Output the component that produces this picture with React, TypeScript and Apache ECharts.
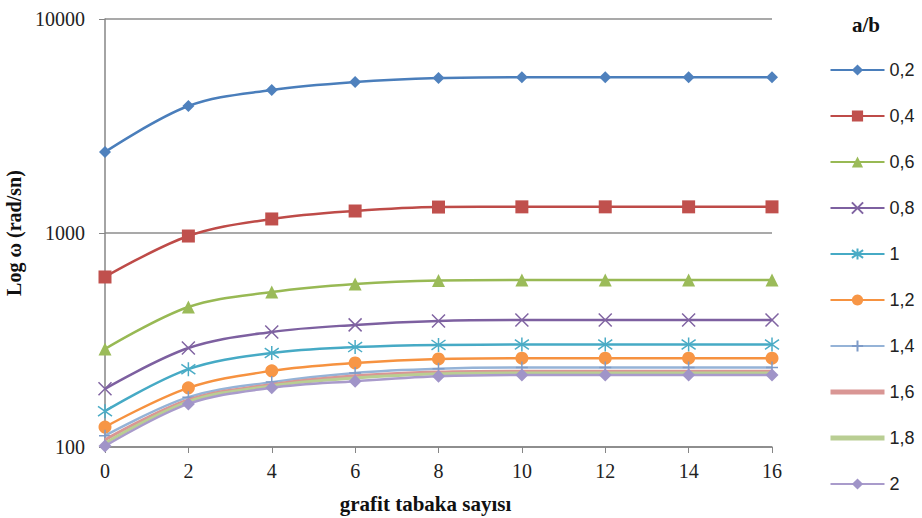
import React, { useEffect, useRef } from "react";
import * as echarts from "echarts";

const categories = ["0", "2", "4", "6", "8", "10", "12", "14", "16"];
const seriesNames = ["0,2", "0,4", "0,6", "0,8", "1", "1,2", "1,4", "1,6", "1,8", "2"];
const s02 = [2390, 3920, 4660, 5080, 5300, 5350, 5350, 5350, 5350];
const s04 = [623, 968, 1163, 1267, 1322, 1325, 1325, 1325, 1325];
const s06 = [287, 451, 530, 578, 600, 603, 603, 603, 603];
const s08 = [187, 290, 345, 372, 388, 392, 392, 392, 392];
const s10 = [147, 231, 275, 293, 300, 301, 301, 301, 301];
const s12 = [124, 189, 227, 247, 258, 260, 260, 260, 260];
const s14 = [113, 171, 201, 222, 232, 235, 235, 235, 235];
const s16 = [108, 166, 196, 215, 224, 226, 226, 226, 226];
const s18 = [104, 163, 193, 210, 220, 222, 222, 222, 222];
const s20 = [101, 159, 189, 203, 214, 217, 217, 217, 217];
const seriesValues = [s02, s04, s06, s08, s10, s12, s14, s16, s18, s20];

const lineColors = ["#4A7EBB", "#BE4B48", "#98B954", "#7D60A0", "#46AAC5", "#F69240", "#95B3D7", "#D99694", "#B9CE93", "#A99BCB"];
const markerColors = ["#4F81BD", "#C0504D", "#9BBB59", "#8064A2", "#4BACC6", "#F79646", "#7E9BC8", "#D99694", "#B9CE93", "#A094C8"];
const symbols = [
  "diamond",
  "rect",
  "triangle",
  "path://M0 0L10 10M10 0L0 10",
  "path://M5 0L5 10M0 1.5L10 8.5M10 1.5L0 8.5",
  "circle",
  "path://M5 0L5 10M0 5L10 5",
  "none",
  "none",
  "diamond",
];
const symbolSizes = [12, 13, 13, 13, 14, 13, 12, 0, 0, 13];
const strokeSymbols = [false, false, false, true, true, false, true, false, false, false];

export default function App() {
  const ref = useRef<HTMLDivElement>(null);
  useEffect(() => {
    if (!ref.current) return;
    const chart = echarts.init(ref.current, null, { renderer: "svg" });
    const series = seriesNames.map((name, i) => ({
      name,
      type: "line",
      data: seriesValues[i],
      smooth: 0.35,
      symbol: symbols[i],
      symbolSize: symbolSizes[i],
      showSymbol: symbols[i] !== "none",
      lineStyle: { color: lineColors[i], width: i === 7 || i === 8 ? 3 : 2.5 },
      itemStyle: strokeSymbols[i]
        ? { color: markerColors[i], borderColor: markerColors[i], borderWidth: 1.5 }
        : { color: markerColors[i], borderWidth: 0 },
      z: 2 + i,
    }));
    chart.setOption({
      animation: false,
      backgroundColor: "#ffffff",
      title: {
        text: "a/b",
        left: 852,
        top: 14,
        padding: 0,
        textStyle: { fontFamily: "Liberation Serif", fontWeight: "bold", fontSize: 21, color: "#111" },
      },
      legend: {
        orient: "vertical",
        left: 828,
        top: 61,
        padding: 0,
        itemWidth: 54,
        itemHeight: 14,
        itemGap: 28,
        textStyle: { fontFamily: "Liberation Sans", fontSize: 18, color: "#222" },
        data: seriesNames.map((n, i) =>
          i === 7 || i === 8
            ? { name: n, lineStyle: { width: 5 }, itemStyle: { opacity: 0 } }
            : { name: n }
        ),
      },
      grid: { left: 105, right: 150, top: 19, bottom: 71, containLabel: false, outerBoundsMode: "none" },
      xAxis: {
        type: "category",
        data: categories,
        boundaryGap: false,
        axisLine: { lineStyle: { color: "#868686", width: 1.5 } },
        axisTick: { show: true, length: 6, lineStyle: { color: "#868686" } },
        axisLabel: { fontFamily: "Liberation Serif", fontSize: 20, color: "#222", margin: 14 },
        name: "grafit tabaka sayısı",
        nameLocation: "middle",
        nameGap: 46,
        nameTextStyle: {
          fontFamily: "Liberation Serif",
          fontWeight: "bold",
          fontSize: 21,
          color: "#111",
          padding: [0, 26, 0, 0],
        },
      },
      yAxis: {
        type: "log",
        logBase: 10,
        min: 100,
        max: 10000,
        axisLine: { show: true, lineStyle: { color: "#868686", width: 1.5 } },
        axisTick: { show: true, length: 6, lineStyle: { color: "#868686" } },
        splitLine: { show: true, lineStyle: { color: "#8c8c8c", width: 1.5 } },
        axisLabel: {
          fontFamily: "Liberation Serif",
          fontSize: 20,
          color: "#222",
          margin: 20,
          formatter: (v: number) => String(Math.round(v)),
        },
        name: "Log ω (rad/sn)",
        nameLocation: "middle",
        nameGap: 76,
        nameTextStyle: { fontFamily: "Liberation Serif", fontWeight: "bold", fontSize: 20, color: "#111" },
      },
      series,
    });
    return () => chart.dispose();
  }, []);
  return (
    <div
      ref={ref}
      style={{ position: "fixed", left: 0, top: 0, width: 922, height: 518 }}
    />
  );
}
